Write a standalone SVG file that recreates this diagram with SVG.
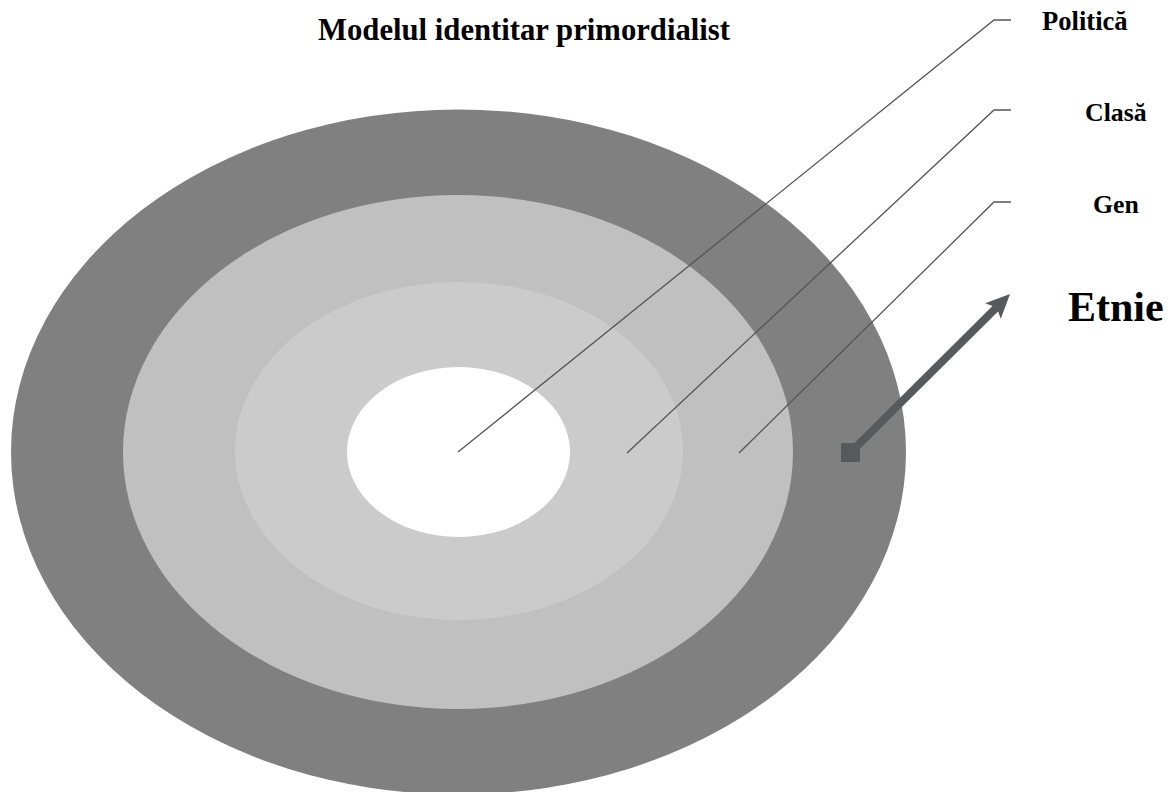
<svg xmlns="http://www.w3.org/2000/svg" width="1171" height="792" viewBox="0 0 1171 792">
  <style>
    .label { font-family: "Liberation Serif", "Times New Roman", serif; font-weight: bold; fill: #000; }
    .leader { fill: none; stroke: #555555; stroke-width: 1.3; }
  </style>
  <rect width="1171" height="792" fill="#ffffff"/>

  <!-- concentric identity layers -->
  <g id="layer-politica">
    <ellipse cx="458.5" cy="452" rx="447.5" ry="342.5" fill="#808080"/>
  </g>
  <g id="layer-clasa">
    <ellipse cx="458" cy="452" rx="335" ry="257" fill="#c0c0c0"/>
  </g>
  <g id="layer-gen">
    <ellipse cx="459" cy="451" rx="224" ry="169" fill="#cbcbcb"/>
  </g>
  <g id="layer-etnie">
    <ellipse cx="458.5" cy="452" rx="111.5" ry="85" fill="#ffffff"/>
  </g>

  <text id="title" class="label" x="318" y="40" font-size="30.7">Modelul identitar primordialist</text>

  <!-- leader lines and arrow -->
  <g id="connectors">
    <polyline class="leader" points="458,452 994,20 1011,20"/>
    <polyline class="leader" points="627,453 994,110 1011,110"/>
    <polyline class="leader" points="739,453 994,202 1011,202"/>
    <rect x="841" y="443" width="19" height="19" fill="#58595b"/>
    <line x1="850.5" y1="452.5" x2="997" y2="307" stroke="#58595b" stroke-width="8"/>
    <polygon points="1010,294 1000.8,318.8 996.6,307.4 985.2,303.2" fill="#58595b"/>
  </g>

  <g id="label-politica"><text class="label" x="1042" y="30" font-size="26.6">Politică</text></g>
  <g id="label-clasa"><text class="label" x="1085" y="121" font-size="25.8">Clasă</text></g>
  <g id="label-gen"><text class="label" x="1093" y="213" font-size="25.8">Gen</text></g>
  <g id="label-etnie"><text class="label" x="1068" y="321" font-size="42">Etnie</text></g>
</svg>
